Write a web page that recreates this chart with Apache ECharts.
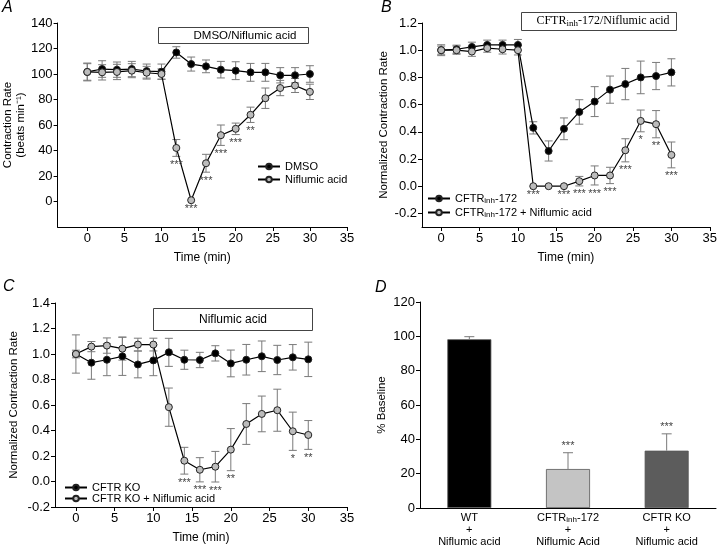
<!DOCTYPE html>
<html><head><meta charset="utf-8">
<script src="https://cdn.jsdelivr.net/npm/echarts@6/dist/echarts.min.js"></script>
<style>html,body{margin:0;padding:0;background:#fff}#c{width:720px;height:550px}</style>
</head><body><div id="c"></div>
<script>
// ---------- DATA ----------
const timePoints = [0,2,4,6,8,10,12,14,16,18,20,22,24,26,28,30];
const xTicks = [0,5,10,15,20,25,30,35];

// Panel A
const aDmso    = [101.6,103.9,103.4,103.9,102.3,101.8,116.9,107.8,106,103.4,102.6,101.3,101.3,99,99,100];
const aDmsoErr = [7,6.5,6,6,5.5,6,4.5,5.5,5,6.5,7,7,7,6,6,6.5];
const aNif     = [101.6,101.3,101.6,102.6,101,100,42,1,30,52,57,68,81,89,91,86];
const aNifErr  = [6.5,6,6,5.5,5,4,6.6,0,7,8,4.5,6,8,6,5.5,6];
const aStars   = ['','','','','','','***','***','***','***','***','**','','','',''];
const aTicks   = [0,20,40,60,80,100,120,140];

// Panel B
const bInh    = [1.0,1.007,1.024,1.039,1.039,1.039,0.429,0.259,0.422,0.546,0.622,0.71,0.751,0.80,0.81,0.837];
const bInhErr = [0.03,0.03,0.035,0.035,0.035,0.04,0.045,0.074,0.08,0.09,0.11,0.1,0.115,0.12,0.1,0.1];
const bNif    = [1.0,1.0,0.99,1.015,1.007,1.0,0,0,0,0.037,0.079,0.079,0.264,0.48,0.456,0.23];
const bNifErr = [0.04,0.03,0.035,0.03,0.035,0.035,0,0,0,0.035,0.07,0.06,0.085,0.08,0.1,0.095];
const bStars  = ['','','','','','','***','','***','***','***','***','***','*','**','***'];
const bTicks  = [-0.2,0,0.2,0.4,0.6,0.8,1.0,1.2];

// Panel C
const cKo     = [1.0,0.932,0.955,0.982,0.918,0.95,1.013,0.955,0.953,1.005,0.926,0.955,0.982,0.953,0.974,0.958];
const cKoErr  = [0.15,0.13,0.125,0.15,0.105,0.12,0.11,0.075,0.06,0.06,0.105,0.12,0.12,0.115,0.1,0.135];
const cNif    = [1.0,1.058,1.066,1.042,1.074,1.074,0.583,0.163,0.092,0.116,0.25,0.451,0.53,0.559,0.394,0.365];
const cNifErr = [0.03,0.04,0.06,0.09,0.05,0.05,0.15,0.105,0.095,0.12,0.165,0.16,0.14,0.165,0.15,0.113];
const cStars  = ['','','','','','','','***','***','***','**','','','','*','**'];
const cTicks  = [-0.2,0,0.2,0.4,0.6,0.8,1.0,1.2,1.4];

// Panel D
const dTop    = ['WT','CFTRinh-172','CFTR KO'];
const dBottom = ['Niflumic acid','Niflumic Acid','Niflumic acid'];
const dVals   = [98.3,22.7,33.4];
const dErr    = [1.5,9.5,9.8];
const dStars  = ['','***','***'];

// ---------- STYLE / BUILD ----------
const FONT = '"Liberation Sans", Arial, Helvetica, sans-serif';
const SERIF = '"Liberation Serif", "Times New Roman", serif';
const ERRC = '#7a7a7a';
const GRAYFILL = '#bcbcbc';
const dColors = ['#000000','#c4c4c4','#5c5c5c'];
const STARC = '#444';

function sub(n){ const p = n.split('inh'); return p.length>1 ? '{n|'+p[0]+'}{s|inh}{n|'+p[1]+'}' : '{n|'+n+'}'; }

function timeAxis(gi, min){
  return {type:'value', gridIndex:gi, min:min, max:35,
    name:'Time (min)', nameLocation:'middle', nameGap:25,
    nameTextStyle:{fontSize:12, color:'#000', fontFamily:FONT},
    axisLine:{show:true, onZero:false, lineStyle:{color:'#000', width:1}},
    axisTick:{show:true, length:4, customValues:xTicks, lineStyle:{color:'#000'}},
    axisLabel:{customValues:xTicks, fontSize:13, color:'#000', margin:5, fontFamily:FONT},
    splitLine:{show:false}};
}
function valAxis(gi, min, max, ticks, name, gap, fmt){
  return {type:'value', gridIndex:gi, min:min, max:max,
    name:name, nameLocation:'middle', nameGap:gap,
    nameTextStyle:{fontSize:11.5, color:'#000', fontFamily:FONT, lineHeight:13},
    axisLine:{show:true, onZero:false, lineStyle:{color:'#000', width:1}},
    axisTick:{show:true, length:4, customValues:ticks, lineStyle:{color:'#000'}},
    axisLabel:{customValues:ticks, fontSize:13, color:'#000', margin:5, fontFamily:FONT, formatter:fmt},
    splitLine:{show:false}};
}
function lineSeries(name, gi, vals, fill){
  return {type:'line', name:name, xAxisIndex:gi, yAxisIndex:gi,
    data: timePoints.map((t,i)=>[t, vals[i]]),
    symbol:'circle', symbolSize:7, lineStyle:{color:'#000', width:1.2},
    itemStyle:{color:fill, borderColor:'#222', borderWidth:1}, z:3, animation:false};
}
function errSeries(gi, vals, errs){
  return {type:'custom', xAxisIndex:gi, yAxisIndex:gi, silent:true, z:2, animation:false,
    data: timePoints.map((t,i)=>[t, vals[i]-errs[i], vals[i]+errs[i]]),
    renderItem(p, api){
      if (api.value(2) - api.value(1) <= 0) return {type:'group', children:[]};
      const lo = api.coord([api.value(0), api.value(1)]);
      const hi = api.coord([api.value(0), api.value(2)]);
      const hw = 4, st = {stroke:ERRC, lineWidth:1};
      return {type:'group', children:[
        {type:'line', shape:{x1:lo[0],y1:lo[1],x2:hi[0],y2:hi[1]}, style:st},
        {type:'line', shape:{x1:lo[0]-hw,y1:lo[1],x2:lo[0]+hw,y2:lo[1]}, style:st},
        {type:'line', shape:{x1:hi[0]-hw,y1:hi[1],x2:hi[0]+hw,y2:hi[1]}, style:st}
      ]};
    }};
}
function starSeries(gi, vals, errs, stars){
  return {type:'custom', xAxisIndex:gi, yAxisIndex:gi, silent:true, z:4, animation:false,
    data: timePoints.map((t,i)=>[t, vals[i]-errs[i]]),
    renderItem(p, api){
      const s = stars[p.dataIndex];
      if (!s) return {type:'group', children:[]};
      const c = api.coord([api.value(0), api.value(1)]);
      return {type:'text', x:c[0], y:c[1]+3,
        style:{text:s, fontSize:11, fill:STARC, align:'center', verticalAlign:'top', textAlign:'center', textVerticalAlign:'top', fontFamily:FONT}};
    }};
}
const legendBase = {orient:'vertical', itemWidth:22, itemHeight:7, itemGap:2, padding:0,
  textStyle:{fontSize:11, color:'#000', fontFamily:FONT,
    rich:{n:{fontSize:11, color:'#000', fontFamily:FONT}, s:{fontSize:8, color:'#000', fontFamily:FONT, verticalAlign:'bottom', padding:[5,0,0,0]}}},
  formatter: sub, selectedMode:false};

const option = {
  animation:false,
  backgroundColor:'#fff',
  textStyle:{fontFamily:FONT},
  grid:[
    {left:56, top:23, width:291, height:204},
    {left:422, top:23, width:291, height:204},
    {left:55, top:303, width:292, height:204},
    {left:420, top:302, width:296, height:206}
  ],
  xAxis:[
    timeAxis(0,-4), timeAxis(1,-2.5), timeAxis(2,-2.7),
    {type:'category', gridIndex:3, data:dTop,
      axisLine:{show:true, lineStyle:{color:'#000', width:1}},
      axisTick:{show:false},
      axisLabel:{margin:4, color:'#000', interval:0,
        formatter:(v,i)=>sub(v)+'\n{n|+}\n{n|'+dBottom[i]+'}',
        rich:{n:{fontSize:11, color:'#000', fontFamily:FONT, lineHeight:12}, s:{fontSize:8, color:'#000', fontFamily:FONT, verticalAlign:'bottom', lineHeight:8, padding:[5,0,0,0]}}}}
  ],
  yAxis:[
    valAxis(0,-20,140,aTicks,'Contraction Rate\n(beats min\u207B\u00B9)',30, v=>String(v)),
    valAxis(1,-0.3,1.2,bTicks,'Normalized Contraction Rate',32, v=>v.toFixed(1)),
    valAxis(2,-0.2,1.4,cTicks,'Normalized Contraction Rate',35, v=>v.toFixed(1)),
    {type:'value', gridIndex:3, min:0, max:120, interval:20,
      name:'% Baseline', nameLocation:'middle', nameGap:32,
      nameTextStyle:{fontSize:11.5, color:'#000', fontFamily:FONT},
      axisLine:{show:true, lineStyle:{color:'#000', width:1}},
      axisTick:{show:true, length:4, lineStyle:{color:'#000'}},
      axisLabel:{fontSize:13, color:'#000', margin:5, fontFamily:FONT},
      splitLine:{show:false}}
  ],
  legend:[
    Object.assign({}, legendBase, {data:['DMSO','Niflumic acid'], left:257, top:161}),
    Object.assign({}, legendBase, {data:['CFTRinh-172','CFTRinh-172 + Niflumic acid'], left:427, top:193}),
    Object.assign({}, legendBase, {data:['CFTR KO','CFTR KO + Niflumic acid'], left:64, top:482, itemGap:0})
  ],
  series:[
    errSeries(0, aDmso, aDmsoErr), errSeries(0, aNif, aNifErr),
    lineSeries('DMSO', 0, aDmso, '#000'), lineSeries('Niflumic acid', 0, aNif, GRAYFILL),
    starSeries(0, aNif, aNifErr, aStars),

    errSeries(1, bInh, bInhErr), errSeries(1, bNif, bNifErr),
    lineSeries('CFTRinh-172', 1, bInh, '#000'), lineSeries('CFTRinh-172 + Niflumic acid', 1, bNif, GRAYFILL),
    starSeries(1, bNif, bNifErr, bStars),

    errSeries(2, cKo, cKoErr), errSeries(2, cNif, cNifErr),
    lineSeries('CFTR KO', 2, cKo, '#000'), lineSeries('CFTR KO + Niflumic acid', 2, cNif, GRAYFILL),
    starSeries(2, cNif, cNifErr, cStars),

    {type:'bar', xAxisIndex:3, yAxisIndex:3, barWidth:44, z:2,
      data: dVals.map((v,i)=>({value:v, itemStyle:{color:dColors[i]}})),
      itemStyle:{borderColor:'#555', borderWidth:0.8}},
    {type:'custom', xAxisIndex:3, yAxisIndex:3, silent:true, z:3,
      data: dVals.map((v,i)=>[i, v, v+dErr[i]]),
      renderItem(p, api){
        const lo = api.coord([api.value(0), api.value(1)]);
        const hi = api.coord([api.value(0), api.value(2)]);
        const st = {stroke:ERRC, lineWidth:1};
        const ch = [
          {type:'line', shape:{x1:lo[0],y1:lo[1],x2:hi[0],y2:hi[1]}, style:st},
          {type:'line', shape:{x1:hi[0]-5,y1:hi[1],x2:hi[0]+5,y2:hi[1]}, style:st}
        ];
        const s = dStars[p.dataIndex];
        if (s) ch.push({type:'text', x:hi[0], y:hi[1]-1,
          style:{text:s, fontSize:11, fill:STARC, align:'center', verticalAlign:'bottom', textAlign:'center', textVerticalAlign:'bottom', fontFamily:FONT}});
        return {type:'group', children:ch};
      }}
  ],
  graphic:[
    {type:'text', left:2, top:0, style:{text:'A', font:'italic 16px '+FONT, fill:'#000'}},
    {type:'text', left:381, top:0, style:{text:'B', font:'italic 16px '+FONT, fill:'#000'}},
    {type:'text', left:3, top:279, style:{text:'C', font:'italic 16px '+FONT, fill:'#000'}},
    {type:'text', left:375, top:280, style:{text:'D', font:'italic 16px '+FONT, fill:'#000'}},
    {type:'rect', z:10, shape:{x:158.5, y:27.5, width:150, height:16}, style:{fill:'#fff', stroke:'#444', lineWidth:1}},
    {type:'text', z:11, x:245, y:36, style:{text:'DMSO/Niflumic acid', fontSize:11.5, fontFamily:FONT, fill:'#000', align:'center', verticalAlign:'middle', textAlign:'center', textVerticalAlign:'middle'}},
    {type:'rect', z:10, shape:{x:521.5, y:12.5, width:155, height:18}, style:{fill:'#fff', stroke:'#444', lineWidth:1}},
    {type:'text', z:11, x:603, y:21, style:{text:'{n|CFTR}{s|inh}{n|-172/Niflumic acid}', align:'center', verticalAlign:'middle', textAlign:'center', textVerticalAlign:'middle',
      rich:{n:{fontSize:12, fontFamily:SERIF, fill:'#000', color:'#000'}, s:{fontSize:9, fontFamily:SERIF, color:'#000', verticalAlign:'bottom', padding:[6,0,0,0]}}}},
    {type:'rect', z:10, shape:{x:153.5, y:308.5, width:159, height:22}, style:{fill:'#fff', stroke:'#444', lineWidth:1}},
    {type:'text', z:11, x:233, y:320, style:{text:'Niflumic acid', fontSize:12, fontFamily:FONT, fill:'#000', align:'center', verticalAlign:'middle', textAlign:'center', textVerticalAlign:'middle'}}
  ]
};
const chart = echarts.init(document.getElementById('c'));
chart.setOption(option);
</script>
</body></html>
